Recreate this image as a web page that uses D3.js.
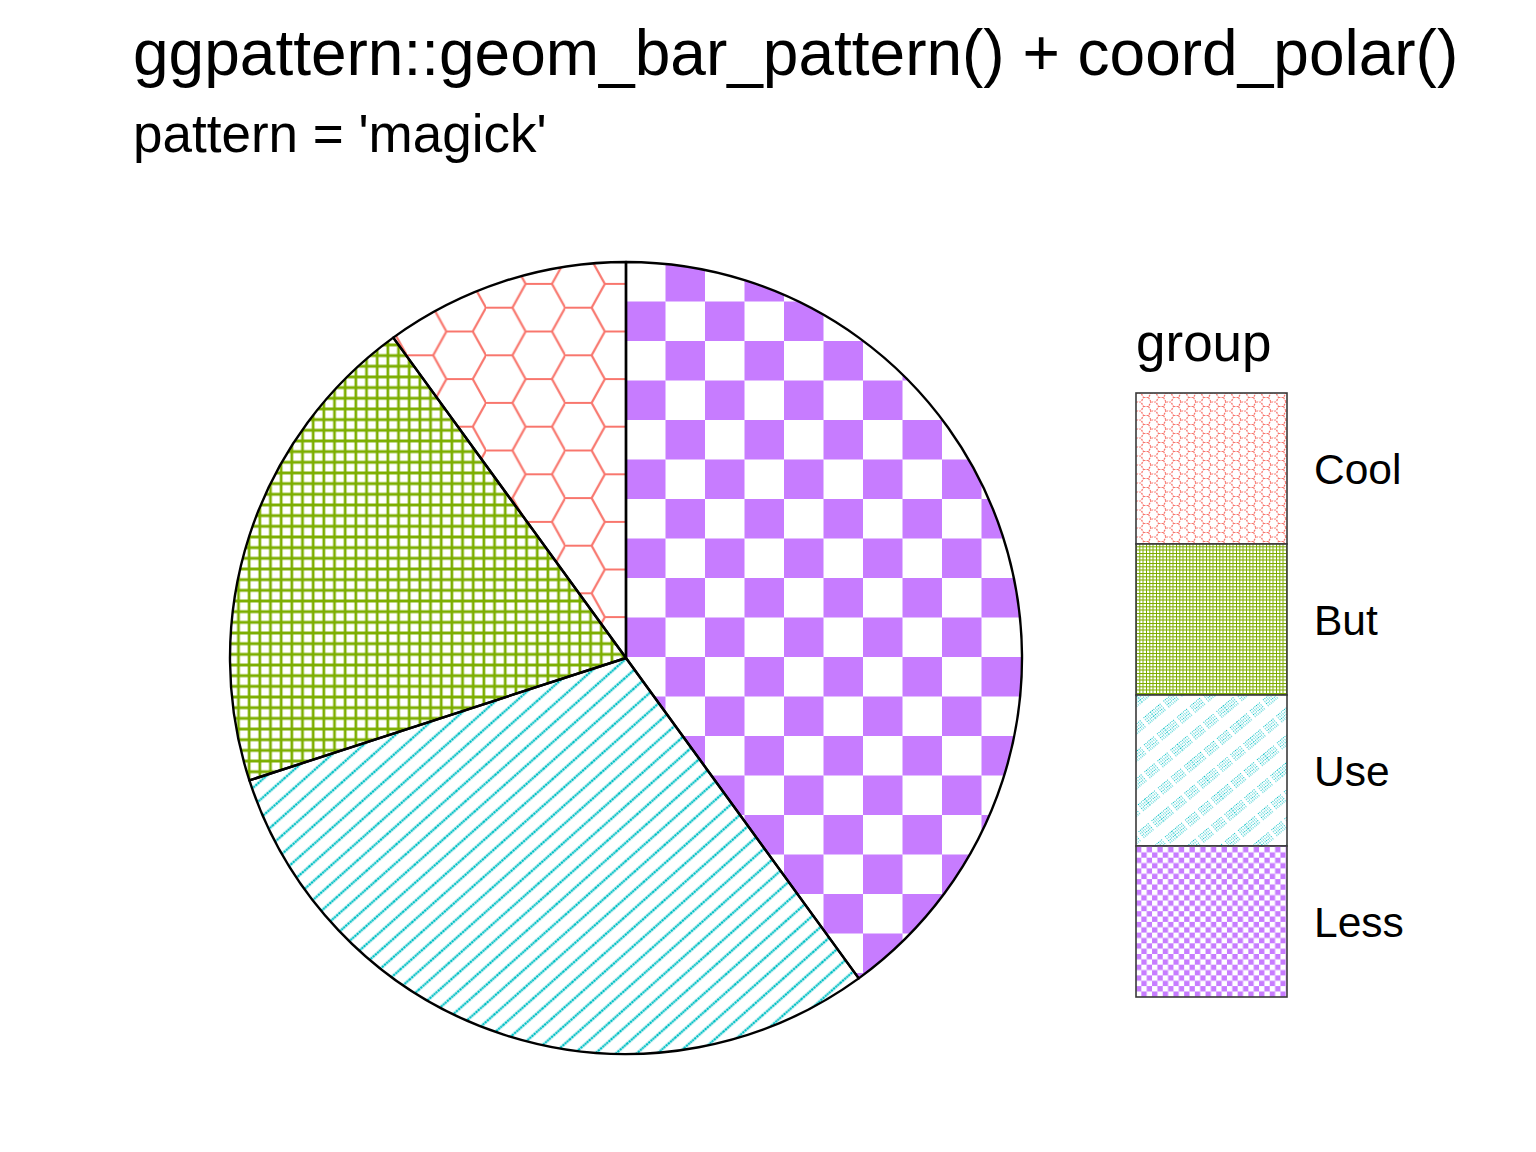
<!DOCTYPE html>
<html>
<head>
<meta charset="utf-8">
<script src="https://cdn.jsdelivr.net/npm/d3@7"></script>
<style>
  body { margin: 0; background: #fff; }
  text { font-family: "Liberation Sans", Arial, Helvetica, sans-serif; fill: #000; }
</style>
</head>
<body>
<div id="chart"></div>
<script>
// ggpattern pie, pattern = 'magick'

var groups = ['Cool', 'But', 'Use', 'Less'];
var values = [10, 20, 30, 40];
var fillColors = ['#F8766D', '#7CAE00', '#00BFC4', '#C77CFF'];
var patternNames = ['hexagons', 'grid', 'right45', 'checkerboard'];

var w_width = 1536, w_height = 1152;
var cx = 626, cy = 658, radius = 396;

var svg = d3.select('#chart').append('svg')
  .attr('width', w_width)
  .attr('height', w_height);

var defs = svg.append('defs');

// ---- big patterns (pie), coords relative to pie centre ----
function hexPath(s, H) {
  return 'M0,0H' + s + 'L' + (1.5 * s) + ',' + (H / 2) + 'L' + s + ',' + H + 'H0' +
    'M' + (1.5 * s) + ',' + (H / 2) + 'H' + (2.5 * s) + 'L' + (3 * s) + ',0' +
    'M' + (2.5 * s) + ',' + (H / 2) + 'L' + (3 * s) + ',' + H;
}

function makeHex(id, color, s, H, x0, y0, sw, dash) {
  var p = defs.append('pattern').attr('id', id)
    .attr('patternUnits', 'userSpaceOnUse')
    .attr('x', x0).attr('y', y0)
    .attr('width', 3 * s).attr('height', H);
  p.append('rect').attr('width', 3 * s).attr('height', H).attr('fill', '#fff');
  p.append('path').attr('d', hexPath(s, H))
    .attr('fill', 'none').attr('stroke', color).attr('stroke-width', sw)
    .attr('stroke-dasharray', dash || null);
}

function makeGrid(id, color, step, x0, y0, sw) {
  var p = defs.append('pattern').attr('id', id)
    .attr('patternUnits', 'userSpaceOnUse')
    .attr('x', x0).attr('y', y0)
    .attr('width', step).attr('height', step);
  p.append('rect').attr('width', step).attr('height', step).attr('fill', '#fff');
  p.append('path')
    .attr('d', 'M0,0V' + step + 'M' + step + ',0V' + step + 'M0,0H' + step + 'M0,' + step + 'H' + step)
    .attr('stroke', color).attr('stroke-width', sw);
}

function makeDiag(id, color, gap, ang, x0, y0, sw) {
  var p = defs.append('pattern').attr('id', id)
    .attr('patternUnits', 'userSpaceOnUse')
    .attr('width', 40).attr('height', gap)
    .attr('patternTransform', 'translate(' + x0 + ',' + y0 + ') rotate(' + (-ang) + ')');
  p.append('rect').attr('width', 40).attr('height', gap).attr('fill', '#fff');
  p.append('path').attr('d', 'M0,0H40M0,' + gap + 'H40')
    .attr('stroke', color).attr('stroke-width', sw)
    .attr('stroke-dasharray', '2.2 0.6');
}

function makeChecker(id, color, cell, x0, y0) {
  var p = defs.append('pattern').attr('id', id)
    .attr('patternUnits', 'userSpaceOnUse')
    .attr('x', x0).attr('y', y0)
    .attr('width', 2 * cell).attr('height', 2 * cell);
  p.append('rect').attr('width', 2 * cell).attr('height', 2 * cell).attr('fill', '#fff');
  p.append('rect').attr('x', cell).attr('y', 0).attr('width', cell).attr('height', cell).attr('fill', color);
  p.append('rect').attr('x', 0).attr('y', cell).attr('width', cell).attr('height', cell).attr('fill', color);
}

makeHex('pat-hexagons', fillColors[0], 26.4, 47.6, -140, -350.3, 2.2);
makeGrid('pat-grid', fillColors[1], 10.67, -323.5, -57, 2.7);
makeDiag('pat-right45', fillColors[2], 13.74, 41.6, -161, 143.7, 2.3);
makeChecker('pat-checkerboard', fillColors[3], 39.5, 0, -radius);

// ---- small patterns (legend keys), absolute coords ----
makeHex('leg-hexagons', fillColors[0], 5, 9, 1136, 393, 1.2, '2 1');
(function() {
  var p = defs.append('pattern').attr('id', 'leg-grid')
    .attr('patternUnits', 'userSpaceOnUse')
    .attr('x', 1136).attr('y', 393).attr('width', 10).attr('height', 10);
  p.append('rect').attr('width', 10).attr('height', 10).attr('fill', '#fff');
  p.append('path').attr('d', 'M0.5,0V10M3.8,0V10M7,0V10M0,0.5H10M0,3.8H10M0,7H10')
    .attr('stroke', fillColors[1]).attr('stroke-width', 1);
})();
(function() {
  var p = defs.append('pattern').attr('id', 'leg-right45')
    .attr('patternUnits', 'userSpaceOnUse')
    .attr('width', 60).attr('height', 21)
    .attr('patternTransform', 'translate(1136,695) rotate(-40)');
  p.append('rect').attr('width', 60).attr('height', 21).attr('fill', '#fff');
  p.append('path').attr('d', 'M0,1.5H60M0,4H60M0,6.5H60M0,9H60')
    .attr('stroke', fillColors[2]).attr('stroke-width', 1.1)
    .attr('stroke-dasharray', '1 1 1 1 1 1 1 1 1 1 1 1 1 4');
})();
makeChecker('leg-checkerboard', fillColors[3], 5.35, 1136 - 5.35, 847);

// ---- pie ----
var pie = d3.pie().sort(null).value(function(d) { return d.value; });
var arc = d3.arc().innerRadius(0).outerRadius(radius);

var sliceData = groups.map(function(g, i) {
  return { group: g, value: values[i], pattern: patternNames[i] };
}).reverse();   // first level sits at the end of the stack

var pieGroup = svg.append('g')
  .attr('transform', 'translate(' + cx + ',' + cy + ')');

var slices = pie(sliceData);

pieGroup.selectAll('path.slice')
  .data(slices)
  .enter()
  .append('path')
  .attr('class', 'slice')
  .attr('d', arc)
  .attr('fill', function(d) { return 'url(#pat-' + d.data.pattern + ')'; });

// outlines on top so no fill covers them
pieGroup.selectAll('path.outline')
  .data(slices)
  .enter()
  .append('path')
  .attr('class', 'outline')
  .attr('d', arc)
  .attr('fill', 'none')
  .attr('stroke', '#000')
  .attr('stroke-width', 2.4)
  .attr('stroke-linejoin', 'round');

// ---- titles ----
svg.append('text').text('ggpattern::geom_bar_pattern() + coord_polar()')
  .attr('x', 133).attr('y', 75).style('font-size', '64px');
svg.append('text').text("pattern = 'magick'")
  .attr('x', 133).attr('y', 152).style('font-size', '53px');

// ---- legend ----
var keySize = 151;
var legendY = d3.scaleBand().domain(groups).range([393, 393 + keySize * groups.length]);

var legend = svg.append('g').attr('class', 'legend');
legend.append('text').text('group')
  .attr('x', 1136).attr('y', 361).style('font-size', '53px');

var keys = legend.selectAll('g.key')
  .data(groups.map(function(g, i) { return { group: g, pattern: patternNames[i] }; }))
  .enter()
  .append('g')
  .attr('class', 'key');

keys.append('rect')
  .attr('x', 1136)
  .attr('y', function(d) { return legendY(d.group); })
  .attr('width', keySize)
  .attr('height', legendY.bandwidth())
  .attr('fill', function(d) { return 'url(#leg-' + d.pattern + ')'; })
  .attr('stroke', '#3a3a3a')
  .attr('stroke-width', 1.6);

keys.append('text')
  .text(function(d) { return d.group; })
  .attr('x', 1314)
  .attr('y', function(d) { return legendY(d.group) + legendY.bandwidth() / 2 + 15; })
  .style('font-size', '42.5px');
</script>
</body>
</html>
